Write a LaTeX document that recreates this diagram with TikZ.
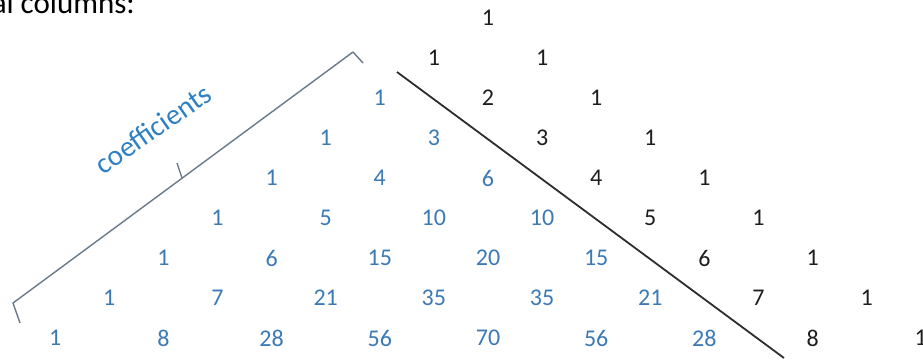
\documentclass[tikz,border=0pt]{standalone}
\usepackage{fontspec}
\setmainfont{Carlito}
\definecolor{numblue}{RGB}{60,122,182}
\definecolor{numblack}{RGB}{30,30,30}
\definecolor{txtblue}{RGB}{46,128,196}
\definecolor{brk}{RGB}{105,122,140}
\definecolor{diag}{RGB}{45,45,45}
\tikzset{
  num/.style={inner sep=0pt, font=\fontsize{24}{28}\selectfont},
}
\begin{document}
\begin{tikzpicture}[x=1pt,y=-1pt]
\useasboundingbox (0,0) rectangle (923,360);
\clip (0,0) rectangle (923,360);
\fill[white] (0,0) rectangle (923,360);
% cut-off heading text
\node[anchor=base east, inner sep=0pt, font=\fontsize{31}{35}\selectfont, text=black] (head) at (135,13) {al columns:};
% numbers
\foreach \row [count=\k from 0] in {{1},{1,1},{1,2,1},{1,3,3,1},{1,4,6,4,1},{1,5,10,10,5,1},{1,6,15,20,15,6,1},{1,7,21,35,35,21,7,1},{1,8,28,56,70,56,28,8,1}}{
  \foreach \v [count=\j from 0] in \row {
    \ifnum\j<\numexpr\k-1\relax \def\col{numblue}\else\def\col{numblack}\fi
    \node[num, text=\col] (n-\k-\j) at ({488+54.1*(2*\j-\k)},{18+40*\k}) {\v};
  }
}
% diagonal separator
\coordinate (d1) at (397,72);
\coordinate (d2) at (784,358);
\draw[diag, line width=1.8pt] (d1) -- (d2);
% bracket
\coordinate (b1) at (363,63);
\coordinate (b2) at (353,52);
\coordinate (bm) at (182,178);
\coordinate (bt) at (177,163);
\coordinate (b3) at (13,303);
\coordinate (b4) at (20,323);
\draw[brk, line width=1.4pt, line join=round] (b1) -- (b2) -- (b3) -- (b4);
\draw[brk, line width=1.4pt] (bm) -- (bt);
\node[inner sep=0pt, rotate=35, text=txtblue, font=\fontsize{29}{33}\selectfont] (coef) at (153,129) {coefficients};
\end{tikzpicture}
\end{document}
